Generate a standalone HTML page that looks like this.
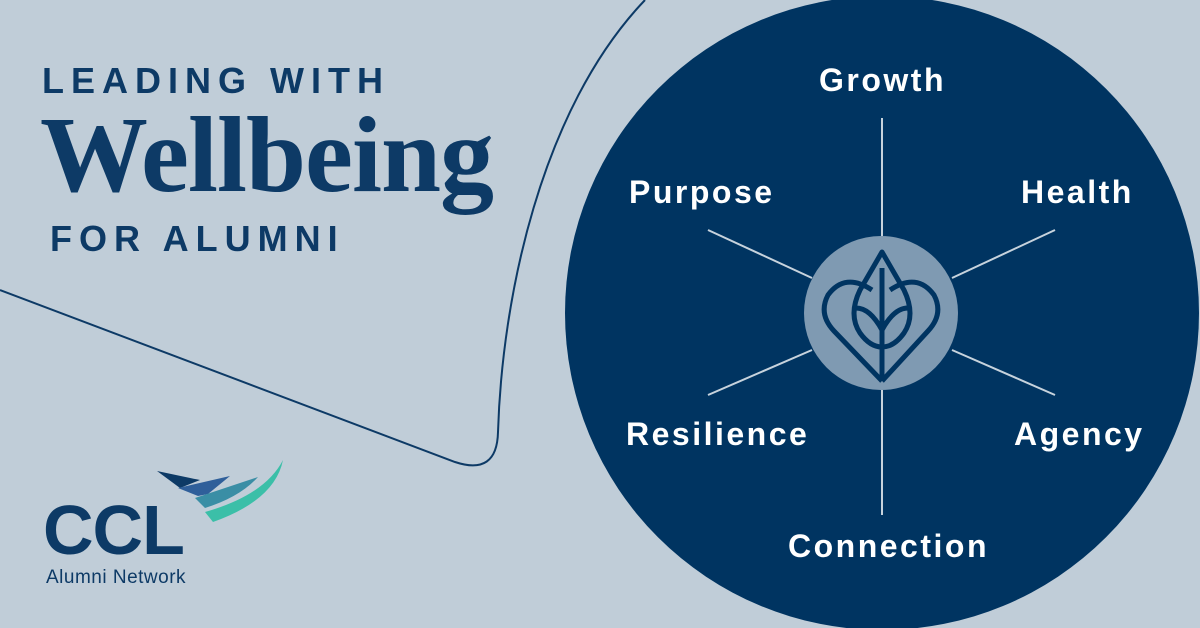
<!DOCTYPE html>
<html><head><meta charset="utf-8"><style>
body{margin:0;width:1200px;height:628px;overflow:hidden;background:#c0cdd8;position:relative;font-family:"Liberation Sans",sans-serif}
.t{position:absolute;color:#0d3a66;font-weight:bold;white-space:nowrap}
.w{color:#fff;font-size:32px;letter-spacing:2.5px}
</style></head><body>
<svg width="1200" height="628" style="position:absolute;left:0;top:0">
<path d="M0,290 L455,462 Q497,476 498,432 C502,300 540,110 645,0" fill="none" stroke="#0d3a66" stroke-width="2"/>
<circle cx="882" cy="313" r="317" fill="#003461"/>
<g stroke="#c7d3dd" stroke-width="2">
<line x1="882" y1="118" x2="882" y2="236"/><line x1="882" y1="390" x2="882" y2="515"/>
<line x1="708" y1="230" x2="812" y2="278"/><line x1="1055" y1="230" x2="952" y2="278"/>
<line x1="708" y1="395" x2="812" y2="350"/><line x1="1055" y1="395" x2="952" y2="350"/>
</g>
<circle cx="881" cy="313" r="77" fill="#7f9ab2"/>
<g fill="none" stroke="#003461" stroke-width="5" stroke-linejoin="round">
<path d="M882,381 L834,331 Q818,314 828,295 Q845,272 872,290 M890,290 Q917,272 934,295 Q944,314 928,331 L882,381"/>
<path d="M882,252 L860,290 Q848,315 860,333 Q870,347 882,347 Q894,347 904,333 Q916,315 904,290 Z"/>
<path d="M882,268 L882,381 M882,330 Q870,308 856,308 M882,330 Q894,308 908,308"/>
</g>
<path d="M157,471 Q190,478 200,480 L180,488 Z" fill="#0d3a66"/>
<path d="M178,488 L230,476 L208,494 L198,496 Z" fill="#2f5f9a"/>
<path d="M195,498 L258,477 Q240,497 205,508 Z" fill="#3a8ea5"/>
<path d="M205,512 Q265,495 283,460 Q275,500 213,522 Z" fill="#3bbfa8"/>
</svg>
<div class="t" style="left:42px;top:60px;font-size:36px;letter-spacing:7px">LEADING WITH</div>
<div class="t" style="left:40px;top:94px;font-size:108px;font-family:'Liberation Serif',serif;letter-spacing:-1px">Wellbeing</div>
<div class="t" style="left:50px;top:218px;font-size:36px;letter-spacing:7px">FOR ALUMNI</div>
<div class="t" style="left:43px;top:490px;font-size:70px;letter-spacing:-1px">CCL</div>
<div class="t" style="left:46px;top:567px;font-size:19px;font-weight:normal;letter-spacing:0.5px">Alumni Network</div>
<div class="t w" style="left:819px;top:62px">Growth</div>
<div class="t w" style="left:629px;top:174px">Purpose</div>
<div class="t w" style="left:1021px;top:174px">Health</div>
<div class="t w" style="left:626px;top:416px">Resilience</div>
<div class="t w" style="left:1014px;top:416px">Agency</div>
<div class="t w" style="left:788px;top:528px">Connection</div>
</body></html>
